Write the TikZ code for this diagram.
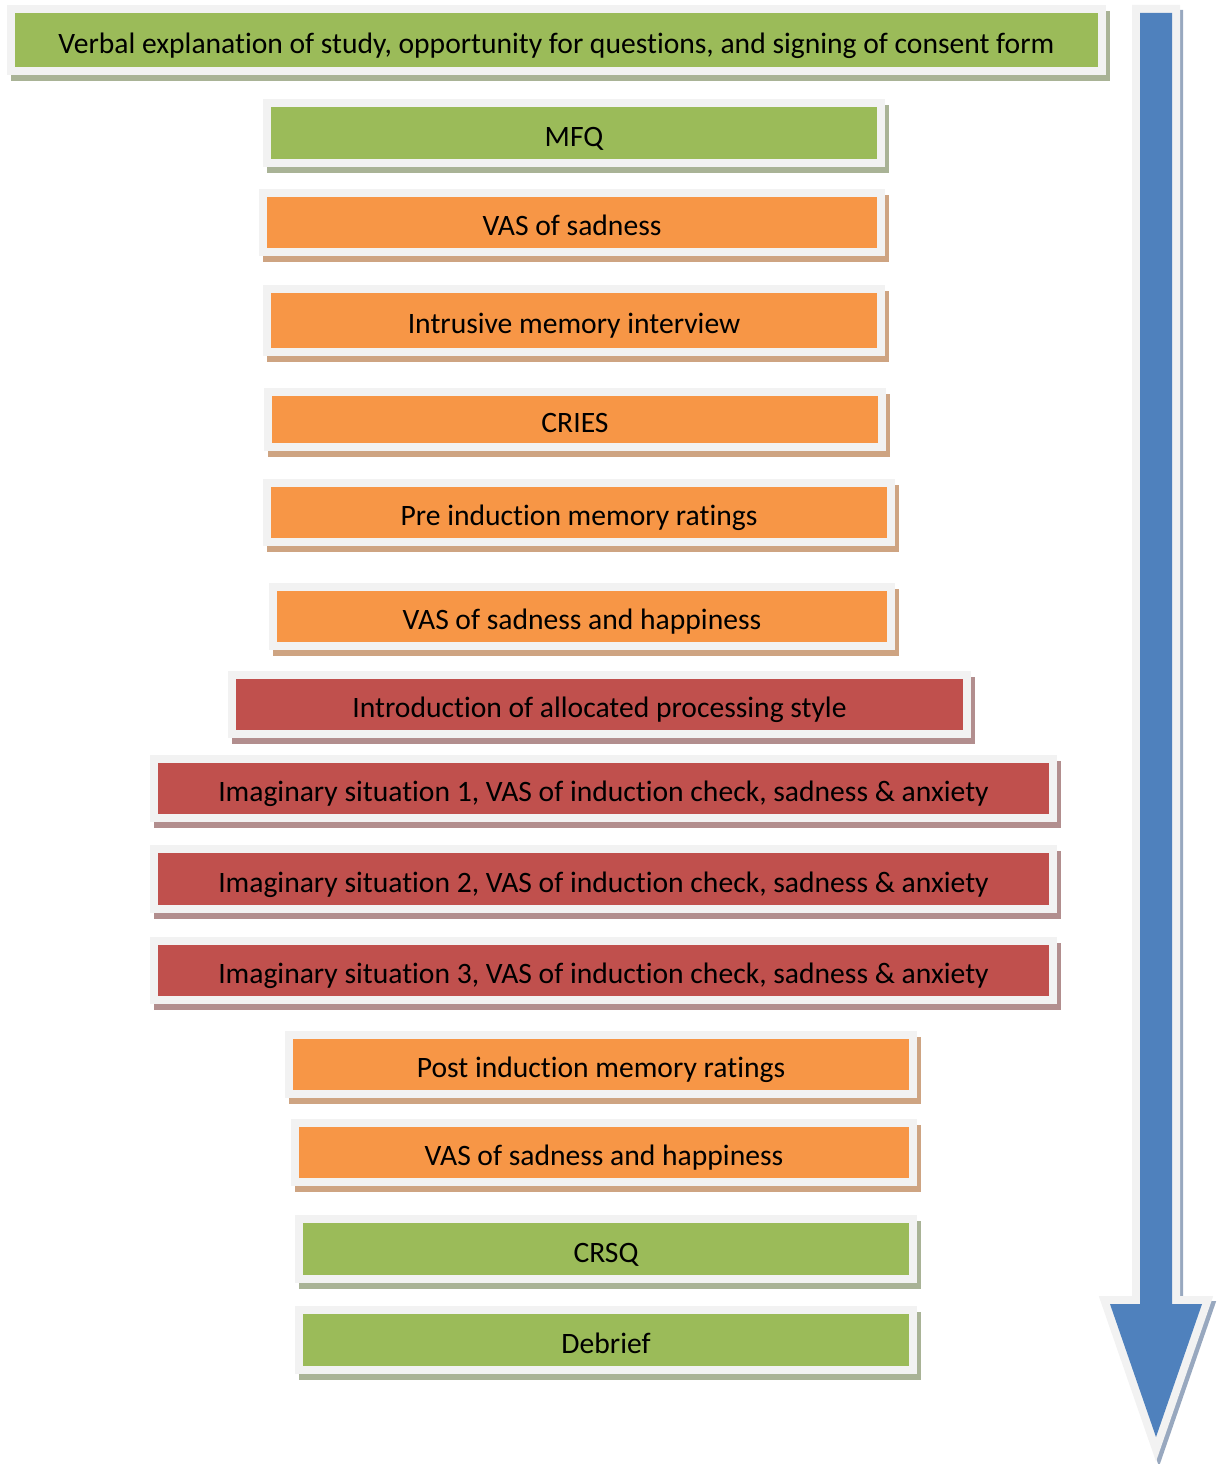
\documentclass[tikz,border=0pt]{standalone}
\usepackage{fontspec}
\setmainfont{Carlito}[Ligatures=CommonOff]
\definecolor{fillgreen}{HTML}{9BBB59}
\definecolor{fillorange}{HTML}{F79646}
\definecolor{fillred}{HTML}{C0504D}
\definecolor{fillblue}{HTML}{4F81BD}
\definecolor{rimgray}{HTML}{F2F2F2}
\definecolor{shadegreen}{RGB}{169,179,150}
\definecolor{shadeorange}{RGB}{206,164,130}
\definecolor{shadered}{RGB}{178,142,142}
\definecolor{shadeblue}{RGB}{152,168,191}
\tikzset{
  stage/.style={draw=rimgray, line width=8pt, inner sep=0pt, text=black,
    font=\fontsize{29.6}{34}\selectfont, text height=29pt, text depth=3pt,
    preaction={draw=#1, fill=#1, transform canvas={shift={(4pt,-6pt)}}}},
  greenstage/.style={stage=shadegreen, fill=fillgreen},
  orangestage/.style={stage=shadeorange, fill=fillorange},
  redstage/.style={stage=shadered, fill=fillred}
}
\begin{document}
\begin{tikzpicture}[x=1pt, y=-1pt]
    \useasboundingbox (0,0) rectangle (1226,1464);

    % Big arrow on the right: shadow, rim, then fill
    \draw [shadeblue, fill=shadeblue, line width=16pt, line join=miter, transform canvas={shift={(3pt,-5pt)}}]
        (1140,13) -- (1172,13) -- (1172,1304) -- (1202,1304) -- (1156,1437) -- (1110,1304) -- (1140,1304) -- cycle;
    \draw [rimgray, line width=16pt, line join=miter]
        (1140,13) -- (1172,13) -- (1172,1304) -- (1202,1304) -- (1156,1437) -- (1110,1304) -- (1140,1304) -- cycle;
    \fill [fillblue]
        (1140,13) -- (1172,13) -- (1172,1304) -- (1202,1304) -- (1156,1437) -- (1110,1304) -- (1140,1304) -- cycle;

    % Consent
    \node [greenstage, minimum width=1091pt, minimum height=62pt] (consent) at (556.5,40)
        {Verbal explanation of study, opportunity for questions, and signing of consent form};

    % Questionnaires and baseline ratings
    \node [greenstage, minimum width=614pt, minimum height=60pt] (mfq) at (574,133) {MFQ};
    \node [orangestage, minimum width=618pt, minimum height=59pt] (vassad) at (572,222.5) {VAS of sadness};
    \node [orangestage, minimum width=614pt, minimum height=63pt] (interview) at (574,320.5) {Intrusive memory interview};
    \node [orangestage, minimum width=614pt, minimum height=55pt] (cries) at (575,419.5) {CRIES};
    \node [orangestage, minimum width=624pt, minimum height=59pt] (preratings) at (579,512.5) {Pre induction memory ratings};
    \node [orangestage, minimum width=618pt, minimum height=59pt] (vaspre) at (582,616.5) {VAS of sadness and happiness};

    % Processing style induction
    \node [redstage, minimum width=735pt, minimum height=59pt] (intro) at (599.5,704.5) {Introduction of allocated processing style};
    \node [redstage, minimum width=899pt, minimum height=59pt] (situation1) at (603.5,788.5)
        {Imaginary situation 1, VAS of induction check, sadness \& anxiety};
    \node [redstage, minimum width=899pt, minimum height=60pt] (situation2) at (603.5,879)
        {Imaginary situation 2, VAS of induction check, sadness \& anxiety};
    \node [redstage, minimum width=899pt, minimum height=59pt] (situation3) at (603.5,970.5)
        {Imaginary situation 3, VAS of induction check, sadness \& anxiety};

    % Post induction
    \node [orangestage, minimum width=624pt, minimum height=59pt] (postratings) at (601,1064.5) {Post induction memory ratings};
    \node [orangestage, minimum width=618pt, minimum height=59pt] (vaspost) at (604,1152.5) {VAS of sadness and happiness};
    \node [greenstage, minimum width=614pt, minimum height=60pt] (crsq) at (606,1249) {CRSQ};
    \node [greenstage, minimum width=614pt, minimum height=60pt] (debrief) at (606,1340) {Debrief};
\end{tikzpicture}
\end{document}
